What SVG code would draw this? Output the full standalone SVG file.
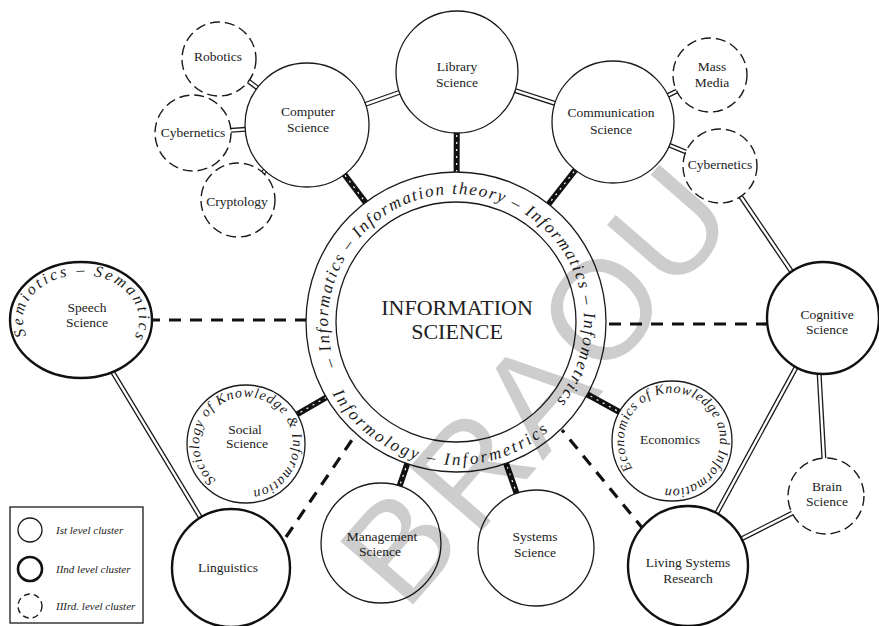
<svg xmlns="http://www.w3.org/2000/svg" width="879" height="626" viewBox="0 0 879 626">
<style>
.bg{fill:#fff}
.n1{fill:#fff;stroke:#1a1a1a;stroke-width:1.3}
.n2{fill:#fff;stroke:#111;stroke-width:2.4}
.n3{fill:#fff;stroke:#1a1a1a;stroke-width:1.4;stroke-dasharray:10 5}
.lbl{font-family:"Liberation Serif","Times New Roman",serif;font-size:13.5px;fill:#222;text-anchor:middle}
.big{font-family:"Liberation Serif","Times New Roman",serif;font-size:22px;fill:#222;text-anchor:middle}
.ring{font-family:"Liberation Serif","Times New Roman",serif;font-style:italic;font-size:17px;fill:#1a1a1a}
.ring2{font-family:"Liberation Serif","Times New Roman",serif;font-style:italic;font-size:14px;fill:#1a1a1a}
.leg{font-family:"Liberation Serif","Times New Roman",serif;font-style:italic;font-size:11px;fill:#222}
.dblo{stroke:#1a1a1a;stroke-width:5;fill:none}
.dbli{stroke:#fff;stroke-width:2.4;fill:none}
.hat{stroke:#111;stroke-width:6;fill:none}
.hati{stroke:#fff;stroke-width:1.2;stroke-dasharray:2 5;fill:none}
.dsh{stroke:#111;stroke-width:3.2;stroke-dasharray:12 9;fill:none}
.wm{font-family:"Liberation Sans",Arial,sans-serif;font-size:140px;fill:#cdcdcd;text-anchor:middle}
</style>
<defs>
<path id="pCenterCW" d="M335.7,365.8 A128,128 0 1 1 556.9,400.7"/>
<path id="pCenterCCW" d="M332.2,393.5 A143,143 0 0 0 551.7,428.3"/>
<path id="pSpeech" d="M26.5,335.4 A58,45 0 1 1 135.5,335.4"/>
<path id="pSocial" d="M215.8,480.0 A47,47 0 1 1 254.2,490.3"/>
<path id="pEcon" d="M632.7,468.5 A48,48 0 1 1 667.8,488.8"/>
</defs>
<rect class="bg" x="0" y="0" width="879" height="626"/>

<g id="connectors">
  <!-- double-line links -->
  <g>
    <line class="dblo" x1="457" y1="72" x2="307" y2="125"/><line class="dbli" x1="457" y1="72" x2="307" y2="125"/>
    <line class="dblo" x1="457" y1="72" x2="613" y2="122"/><line class="dbli" x1="457" y1="72" x2="613" y2="122"/>
    <line class="dblo" x1="307" y1="125" x2="219" y2="59"/><line class="dbli" x1="307" y1="125" x2="219" y2="59"/>
    <line class="dblo" x1="307" y1="125" x2="193" y2="133"/><line class="dbli" x1="307" y1="125" x2="193" y2="133"/>
    <line class="dblo" x1="307" y1="125" x2="238" y2="200"/><line class="dbli" x1="307" y1="125" x2="238" y2="200"/>
    <line class="dblo" x1="613" y1="122" x2="710" y2="75"/><line class="dbli" x1="613" y1="122" x2="710" y2="75"/>
    <line class="dblo" x1="613" y1="122" x2="720" y2="166"/><line class="dbli" x1="613" y1="122" x2="720" y2="166"/>
    <line class="dblo" x1="720" y1="166" x2="823" y2="318"/><line class="dbli" x1="720" y1="166" x2="823" y2="318"/>
    <line class="dblo" x1="816" y1="318" x2="826" y2="496"/><line class="dbli" x1="816" y1="318" x2="826" y2="496"/>
    <line class="dblo" x1="823" y1="318" x2="688" y2="566"/><line class="dbli" x1="823" y1="318" x2="688" y2="566"/>
    <line class="dblo" x1="826" y1="496" x2="688" y2="566"/><line class="dbli" x1="826" y1="496" x2="688" y2="566"/>
    <line class="dblo" x1="80" y1="318" x2="231" y2="568"/><line class="dbli" x1="80" y1="318" x2="231" y2="568"/>
  </g>
  <!-- hatched links to centre -->
  <g>
    <line class="hat" x1="457" y1="72" x2="456" y2="322"/><line class="hati" x1="457" y1="72" x2="456" y2="322"/>
    <line class="hat" x1="307" y1="125" x2="456" y2="322"/><line class="hati" x1="307" y1="125" x2="456" y2="322"/>
    <line class="hat" x1="613" y1="122" x2="456" y2="322"/><line class="hati" x1="613" y1="122" x2="456" y2="322"/>
    <line class="hat" x1="246" y1="444" x2="456" y2="322"/><line class="hati" x1="246" y1="444" x2="456" y2="322"/>
    <line class="hat" x1="672" y1="441" x2="456" y2="322"/><line class="hati" x1="672" y1="441" x2="456" y2="322"/>
    <line class="hat" x1="380" y1="543" x2="456" y2="322"/><line class="hati" x1="380" y1="543" x2="456" y2="322"/>
    <line class="hat" x1="536" y1="548" x2="456" y2="322"/><line class="hati" x1="536" y1="548" x2="456" y2="322"/>
  </g>
  <!-- dashed links -->
  <g>
    <line class="dsh" x1="148" y1="320" x2="308" y2="320"/>
    <line class="dsh" x1="768" y1="324" x2="603" y2="324"/>
    <line class="dsh" x1="286" y1="537" x2="354" y2="437"/>
    <line class="dsh" x1="644" y1="530" x2="562" y2="430"/>
  </g>
</g>

<g id="n-info">
  <circle class="n1" cx="456" cy="322" r="150"/>
  <circle class="n1" cx="456" cy="322" r="120"/>
  <text class="big" x="457" y="315">INFORMATION</text>
  <text class="big" x="457" y="339">SCIENCE</text>
  <text class="ring" textLength="548" lengthAdjust="spacing"><textPath href="#pCenterCW">– Informatics – Information theory – Informatics – Infometrics –</textPath></text>
  <text class="ring" textLength="250" lengthAdjust="spacing"><textPath href="#pCenterCCW">Informology – Informetrics</textPath></text>
</g>

<g id="n-library"><circle class="n1" cx="457" cy="72" r="61"/><text class="lbl" x="457" y="71">Library</text><text class="lbl" x="457" y="87">Science</text></g>
<g id="n-computer"><circle class="n1" cx="307" cy="125" r="62"/><text class="lbl" x="308" y="116">Computer</text><text class="lbl" x="308" y="132">Science</text></g>
<g id="n-communication"><circle class="n1" cx="613" cy="122" r="61"/><text class="lbl" x="611" y="117">Communication</text><text class="lbl" x="611" y="134">Science</text></g>
<g id="n-robotics"><circle class="n3" cx="219" cy="59" r="37"/><text class="lbl" x="218" y="61">Robotics</text></g>
<g id="n-cybernetics-l"><circle class="n3" cx="193" cy="133" r="38"/><text class="lbl" x="193" y="137">Cybernetics</text></g>
<g id="n-cryptology"><circle class="n3" cx="238" cy="200" r="37"/><text class="lbl" x="237" y="206">Cryptology</text></g>
<g id="n-massmedia"><circle class="n3" cx="710" cy="75" r="37"/><text class="lbl" x="712" y="71">Mass</text><text class="lbl" x="712" y="87">Media</text></g>
<g id="n-cybernetics-r"><circle class="n3" cx="720" cy="166" r="37"/><text class="lbl" x="720" y="169">Cybernetics</text></g>
<g id="n-cognitive"><circle class="n2" cx="823" cy="318" r="56"/><text class="lbl" x="827" y="319">Cognitive</text><text class="lbl" x="827" y="334">Science</text></g>
<g id="n-brain"><circle class="n3" cx="826" cy="496" r="38"/><text class="lbl" x="827" y="491">Brain</text><text class="lbl" x="827" y="506">Science</text></g>
<g id="n-living"><circle class="n2" cx="688" cy="566" r="60"/><text class="lbl" x="688" y="567">Living Systems</text><text class="lbl" x="688" y="583">Research</text></g>
<g id="n-economics"><circle class="n1" cx="672" cy="441" r="60"/><text class="lbl" x="670" y="444">Economics</text>
  <text class="ring2" textLength="262" lengthAdjust="spacing"><textPath href="#pEcon">Economics of Knowledge and Information</textPath></text></g>
<g id="n-speech"><ellipse class="n2" cx="81" cy="320" rx="71" ry="58"/><text class="lbl" x="87" y="312">Speech</text><text class="lbl" x="87" y="327">Science</text>
  <text class="ring" style="font-size:16px" textLength="196" lengthAdjust="spacing"><textPath href="#pSpeech">Semiotics – Semantics</textPath></text></g>
<g id="n-social"><circle class="n1" cx="246" cy="444" r="59"/><text class="lbl" x="245" y="434">Social</text><text class="lbl" x="247" y="448">Science</text>
  <text class="ring2" textLength="255" lengthAdjust="spacing"><textPath href="#pSocial">Sociology of Knowledge &amp; Information</textPath></text></g>
<g id="n-linguistics"><circle class="n2" cx="231" cy="568" r="59"/><text class="lbl" x="228" y="572">Linguistics</text></g>
<g id="n-management"><circle class="n1" cx="381" cy="543" r="60"/><text class="lbl" x="382" y="541">Management</text><text class="lbl" x="380" y="556">Science</text></g>
<g id="n-systems"><circle class="n1" cx="536" cy="548" r="58"/><text class="lbl" x="535" y="541">Systems</text><text class="lbl" x="535" y="557">Science</text></g>

<g id="legend">
  <rect x="10" y="507" width="133" height="116" fill="none" stroke="#1a1a1a" stroke-width="1.3"/>
  <circle cx="30" cy="530" r="12" fill="none" stroke="#1a1a1a" stroke-width="1.3"/>
  <circle cx="30" cy="569" r="12" fill="none" stroke="#111" stroke-width="2.6"/>
  <circle cx="30" cy="606" r="12" fill="none" stroke="#1a1a1a" stroke-width="1.4" stroke-dasharray="6 4"/>
  <text class="leg" x="56" y="534">Ist level cluster</text>
  <text class="leg" x="56" y="573">IInd level cluster</text>
  <text class="leg" x="56" y="610">IIIrd. level cluster</text>
</g>

<g id="watermark" style="mix-blend-mode:multiply">
  <text class="wm" x="398" y="545" dy="0.36em" transform="rotate(-49 398 545)">B</text>
  <text class="wm" x="470" y="468" dy="0.36em" transform="rotate(-49 470 468)">R</text>
  <text class="wm" x="535" y="393" dy="0.36em" transform="rotate(-49 535 393)">A</text>
  <text class="wm" x="600" y="308" dy="0.36em" transform="rotate(-49 600 308)">O</text>
  <text class="wm" x="668" y="225" dy="0.36em" transform="rotate(-49 668 225)">U</text>
</g>
</svg>
